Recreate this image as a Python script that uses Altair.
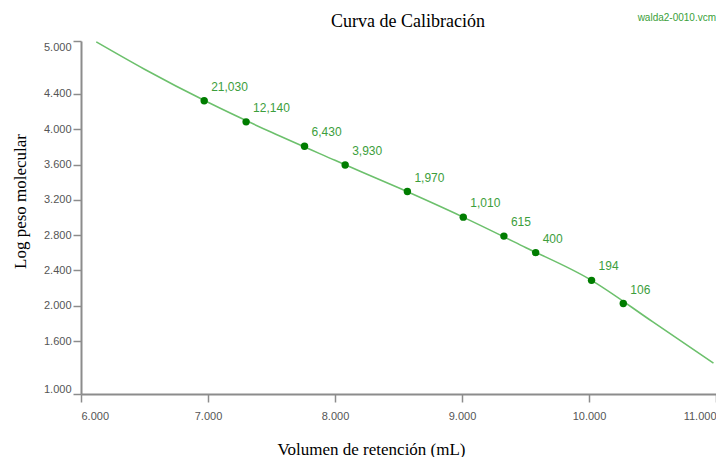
import altair as alt
import pandas as pd

# Calibration standards (molecular weight labels, retention volume, log MW)
mw_labels = ["21,030", "12,140", "6,430", "3,930", "1,970", "1,010", "615", "400", "194", "106"]
ret_volume = [6.97, 7.30, 7.76, 8.08, 8.57, 9.01, 9.33, 9.58, 10.02, 10.27]
log_mw = [4.323, 4.084, 3.808, 3.594, 3.294, 3.004, 2.789, 2.602, 2.288, 2.025]

# Fitted calibration curve
curve_x = [6.12, 6.5, 7.0, 7.5, 8.0, 8.5, 9.0, 9.5, 10.0, 10.5, 10.98]
curve_y = [4.99, 4.68, 4.305, 3.965, 3.648, 3.336, 3.01, 2.661, 2.305, 1.82, 1.35]

x_ticks = [6, 7, 8, 9, 10, 11]
y_ticks = [1.0, 1.6, 2.0, 2.4, 2.8, 3.2, 3.6, 4.0, 4.4, 5.0]

title_text = "Curva de Calibración"
file_text = "walda2-0010.vcm"

pts = pd.DataFrame({"v": ret_volume, "l": log_mw, "lab": mw_labels})
curve = pd.DataFrame({"v": curve_x, "l": curve_y})

xscale = alt.Scale(domain=[6, 11], nice=False, zero=False)
yscale = alt.Scale(domain=[1, 5], nice=False, zero=False)

axis_common = dict(
    format=".3f",
    labelFlush=True,
    labelOverlap=False,
    tickCount=30,
    grid=False,
    domainColor="#8c8c8c",
    domainWidth=2,
    tickColor="#8c8c8c",
    tickWidth=1.5,
    tickSize=8,
    labelColor="#555555",
    labelFont="Liberation Sans",
    labelFontSize=11,
    titleFont="Liberation Serif",
    titleFontSize=17,
    titleFontWeight="normal",
    titleColor="#000000",
)

x_enc = alt.X("v:Q", scale=xscale,
              axis=alt.Axis(values=x_ticks, title="Volumen de retención (mL)",
                            labelPadding=8, titleX=290, titleY=55,
                            titleBaseline="middle", **axis_common))
y_enc = alt.Y("l:Q", scale=yscale,
              axis=alt.Axis(values=y_ticks, title="Log peso molecular",
                            labelPadding=2, titleX=-61, titleY=160,
                            titleBaseline="middle", titleAngle=-90, **axis_common))

line = alt.Chart(curve).mark_line(
    color="#6cc06c", strokeWidth=1.6, interpolate="monotone", clip=True
).encode(x=x_enc, y=y_enc)

points = alt.Chart(pts).mark_circle(size=55, color="#007d00", opacity=1).encode(
    x="v:Q", y="l:Q"
)

labels = alt.Chart(pts).mark_text(
    align="left", baseline="middle", dx=7, dy=-14,
    color="#3c9e3c", font="Liberation Sans", fontSize=12
).encode(x="v:Q", y="l:Q", text="lab:N")

title = alt.Chart(pd.DataFrame({"t": [title_text]})).mark_text(
    align="center", baseline="middle", font="Liberation Serif", fontSize=18, color="#000000"
).encode(x=alt.value(327), y=alt.value(-19), text="t:N")

fname = alt.Chart(pd.DataFrame({"t": [file_text]})).mark_text(
    align="right", baseline="middle", font="Liberation Sans", fontSize=10, color="#3aa03a"
).encode(x=alt.value(635), y=alt.value(-23), text="t:N")

chart = alt.layer(line, points, labels, title, fname).properties(
    width=635, height=353,
    autosize=alt.AutoSizeParams(type="none"),
    padding={"left": 73, "top": 33, "right": 0, "bottom": 63},
).configure_view(stroke=None)

chart.save("out.html", embed_options={"renderer": "svg", "actions": False})
